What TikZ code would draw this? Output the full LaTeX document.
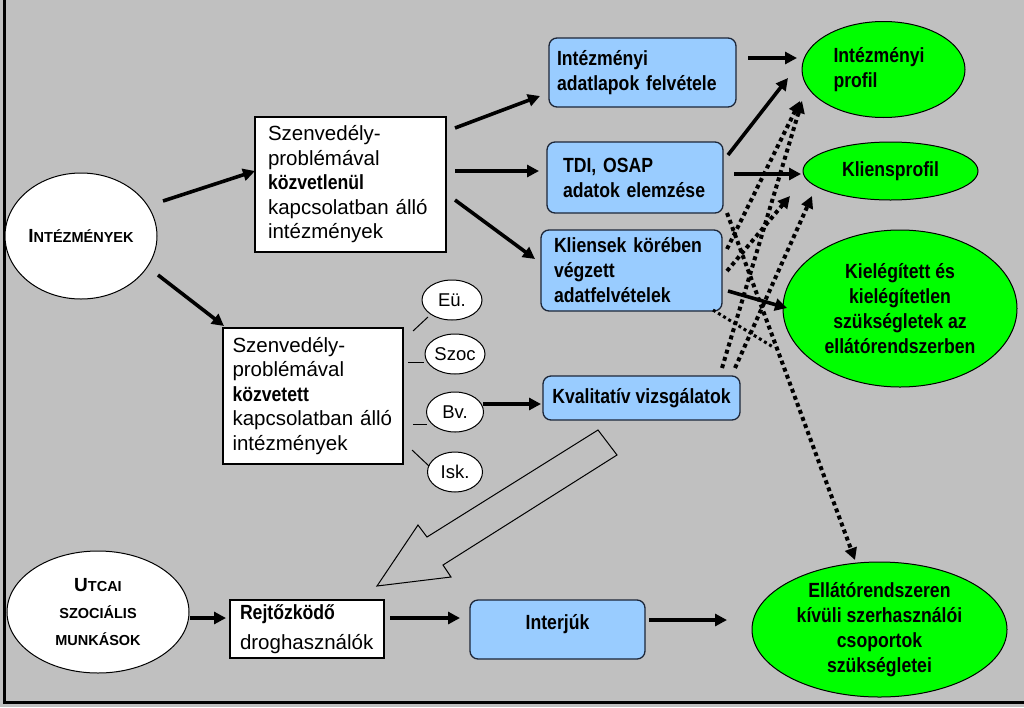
\documentclass[tikz,border=0pt]{standalone}
\usepackage{fontspec}
\setmainfont{Liberation Sans}
\newfontfamily\narrowf[FakeStretch=0.86]{Liberation Sans}
\usetikzlibrary{arrows.meta,shapes.geometric}
\definecolor{bgray}{HTML}{C0C0C0}
\definecolor{lblue}{HTML}{99CCFF}
\definecolor{lgreen}{HTML}{00FF00}
\definecolor{navy}{HTML}{1C2638}
\tikzset{
  every node/.style={outer sep=0pt, inner sep=0pt},
  plainbox/.style={rectangle, draw=black, line width=1.3pt, fill=white, align=left,
    font=\fontsize{20.5}{24.5}\selectfont},
  bluebox/.style={rectangle, draw=navy, line width=1.3pt, fill=lblue, rounded corners=8pt, align=left,
    font=\narrowf\bfseries\fontsize{20.5}{25}\selectfont},
  greenell/.style={ellipse, draw=black, line width=1pt, fill=lgreen, align=center,
    font=\narrowf\bfseries\fontsize{20.5}{25}\selectfont},
  whiteell/.style={ellipse, draw=black, line width=1pt, fill=white, align=center},
  smallell/.style={whiteell, minimum width=60pt, minimum height=40pt, font=\fontsize{18.5}{20}\selectfont},
  arr/.style={line width=3.6pt, -{Triangle[length=12pt,width=12pt]}},
  dotarr/.style={line width=4pt, dash pattern=on 4pt off 3.5pt, -{Triangle[length=12pt,width=12pt]}},
  dotline/.style={line width=3pt, dash pattern=on 3pt off 3pt},
  thinline/.style={line width=1pt},
}
\begin{document}
\begin{tikzpicture}[x=1pt,y=-1pt]
\useasboundingbox (0,0) rectangle (1024,707);
\fill[bgray] (0,0) rectangle (1024,707);
\draw[line width=3pt] (4,0) -- (4,702) -- (1024,702);

% nodes
\node[whiteell, minimum width=152pt, minimum height=126pt,
  font=\bfseries\fontsize{14.5}{20}\selectfont] (intez) at (81,236)
  {{\fontsize{19}{20}\selectfont I}NTÉZMÉNYEK};
\node[plainbox, minimum width=191pt, minimum height=135pt, text width=165pt] (box1) at (350.5,184.5)
  {Szenvedély-\\problémával\\{\narrowf\bfseries közvetlenül}\\kapcsolatban álló\\intézmények};
\node[plainbox, minimum width=180pt, minimum height=136pt, text width=161pt] (box2) at (313,396)
  {Szenvedély-\\problémával\\{\narrowf\bfseries közvetett}\\kapcsolatban álló\\intézmények};
\node[bluebox, minimum width=187pt, minimum height=69pt, text width=171pt] (adat) at (642.5,72.5)
  {Intézményi\\adatlapok felvétele};
\node[bluebox, minimum width=176pt, minimum height=71pt, text width=144pt] (tdi) at (635,177.5)
  {TDI, OSAP\\adatok elemzése};
\node[bluebox, minimum width=181pt, minimum height=81pt, text width=155pt] (klies) at (631.5,270.5)
  {Kliensek körében\\végzett\\adatfelvételek};
\node[bluebox, minimum width=197pt, minimum height=44pt, align=center] (kval) at (641.5,398)
  {Kvalitatív vizsgálatok};
\node[bluebox, minimum width=175pt, minimum height=59pt, align=center] (interj) at (557.5,629.5)
  {\raisebox{0pt}[0pt][0pt]{Interjúk}};
\node[plainbox, minimum width=154pt, minimum height=58pt, text width=134pt] (rejt) at (307,629)
  {\raisebox{-1pt}{\narrowf\bfseries Rejtőzködő}\\[6pt]droghasználók};
\node[whiteell, minimum width=182pt, minimum height=122pt,
  font=\bfseries\fontsize{14.5}{27}\selectfont] (utcai) at (98,612)
  {{\fontsize{19}{20}\selectfont U}TCAI\\SZOCIÁLIS\\MUNKÁSOK};
\node[smallell] (eu) at (452,300) {Eü.};
\node[smallell] (szoc) at (455,354) {Szoc};
\node[smallell, minimum width=57pt] (bv) at (455,412) {Bv.};
\node[smallell, minimum width=55pt] (isk) at (455,472) {Isk.};
\node[greenell, minimum width=163pt, minimum height=96pt, text width=100pt, align=left] (iprof) at (883.5,69.5)
  {Intézményi\\profil\\[9pt]};
\node[greenell, minimum width=175pt, minimum height=58pt] (kprof) at (890.5,171)
  {\raisebox{3pt}{Kliensprofil}};
\node[greenell, minimum width=234pt, minimum height=157pt] (kiel) at (900,308.5)
  {Kielégített és\\kielégítetlen\\szükségletek az\\ellátórendszerben};
\node[greenell, minimum width=255pt, minimum height=135pt] (ellat) at (879.5,629.5)
  {Ellátórendszeren\\kívüli szerhasználói\\csoportok\\szükségletei};

% hollow arrow
\draw[line width=1pt, fill=bgray] (598,430) -- (617,455) -- (443,565) -- (451,577) -- (377,586) -- (418,525) -- (427,537) -- cycle;

% thin connectors
\draw[thinline] ([shift={(100,-65)}]box2.center) -- ([shift={(-24,17)}]eu.center);
\draw[thinline] ([shift={(95,-34)}]box2.center) -- ([shift={(-31,8)}]szoc.center);
\draw[thinline] ([shift={(100,28)}]box2.center) -- ([shift={(-28,12)}]bv.center);
\draw[thinline] ([shift={(99,54)}]box2.center) -- ([shift={(-26,-6)}]isk.center);

% solid arrows
\draw[arr] ([shift={(82,-35)}]intez.center) -- ([shift={(-95.5,-13.5)}]box1.center);
\draw[arr] ([shift={(77,39)}]intez.center) -- ([shift={(-89,-70)}]box2.center);
\draw[arr] ([shift={(104.5,-56.5)}]box1.center) -- ([shift={(-102.5,23.5)}]adat.center);
\draw[arr] ([shift={(104.5,-13.5)}]box1.center) -- ([shift={(-96,-6.5)}]tdi.center);
\draw[arr] ([shift={(104.5,15.5)}]box1.center) -- ([shift={(-96.5,-11.5)}]klies.center);
\draw[arr] ([shift={(105.5,-14.5)}]adat.center) -- ([shift={(-86.5,-11.5)}]iprof.center);
\draw[arr] ([shift={(93,-22.5)}]tdi.center) -- ([shift={(-95.5,8.5)}]iprof.center);
\draw[arr] ([shift={(99,-3.5)}]tdi.center) -- ([shift={(-89.5,3)}]kprof.center);
\draw[arr] ([shift={(96.5,20.5)}]klies.center) -- ([shift={(-113,-0.5)}]kiel.center);
\draw[arr] ([shift={(28,-8)}]bv.center) -- ([shift={(-100.5,6)}]kval.center);
\draw[arr] ([shift={(92,6)}]utcai.center) -- ([shift={(-81,-11)}]rejt.center);
\draw[arr] ([shift={(83,-11)}]rejt.center) -- ([shift={(-97.5,-11.5)}]interj.center);
\draw[arr] ([shift={(91.5,-9.5)}]interj.center) -- ([shift={(-152.5,-9.5)}]ellat.center);

% dotted arrows
\draw[dotarr] ([shift={(95.5,-21.5)}]klies.center) -- ([shift={(-83.5,31.5)}]iprof.center);
\draw[dotarr] ([shift={(95.5,0.5)}]klies.center) -- ([shift={(-100.5,25)}]kprof.center);
\draw[dotarr] ([shift={(80.5,-30)}]kval.center) -- ([shift={(-81.5,31.5)}]iprof.center);
\draw[dotarr] ([shift={(93.5,-30)}]kval.center) -- ([shift={(-78.5,25)}]kprof.center);
\draw[dotarr] ([shift={(92,35.5)}]tdi.center) -- ([shift={(-24.5,-69.5)}]ellat.center);
\draw[dotline] ([shift={(81.5,39.5)}]klies.center) -- ([shift={(-127,38.5)}]kiel.center);
\end{tikzpicture}
\end{document}
